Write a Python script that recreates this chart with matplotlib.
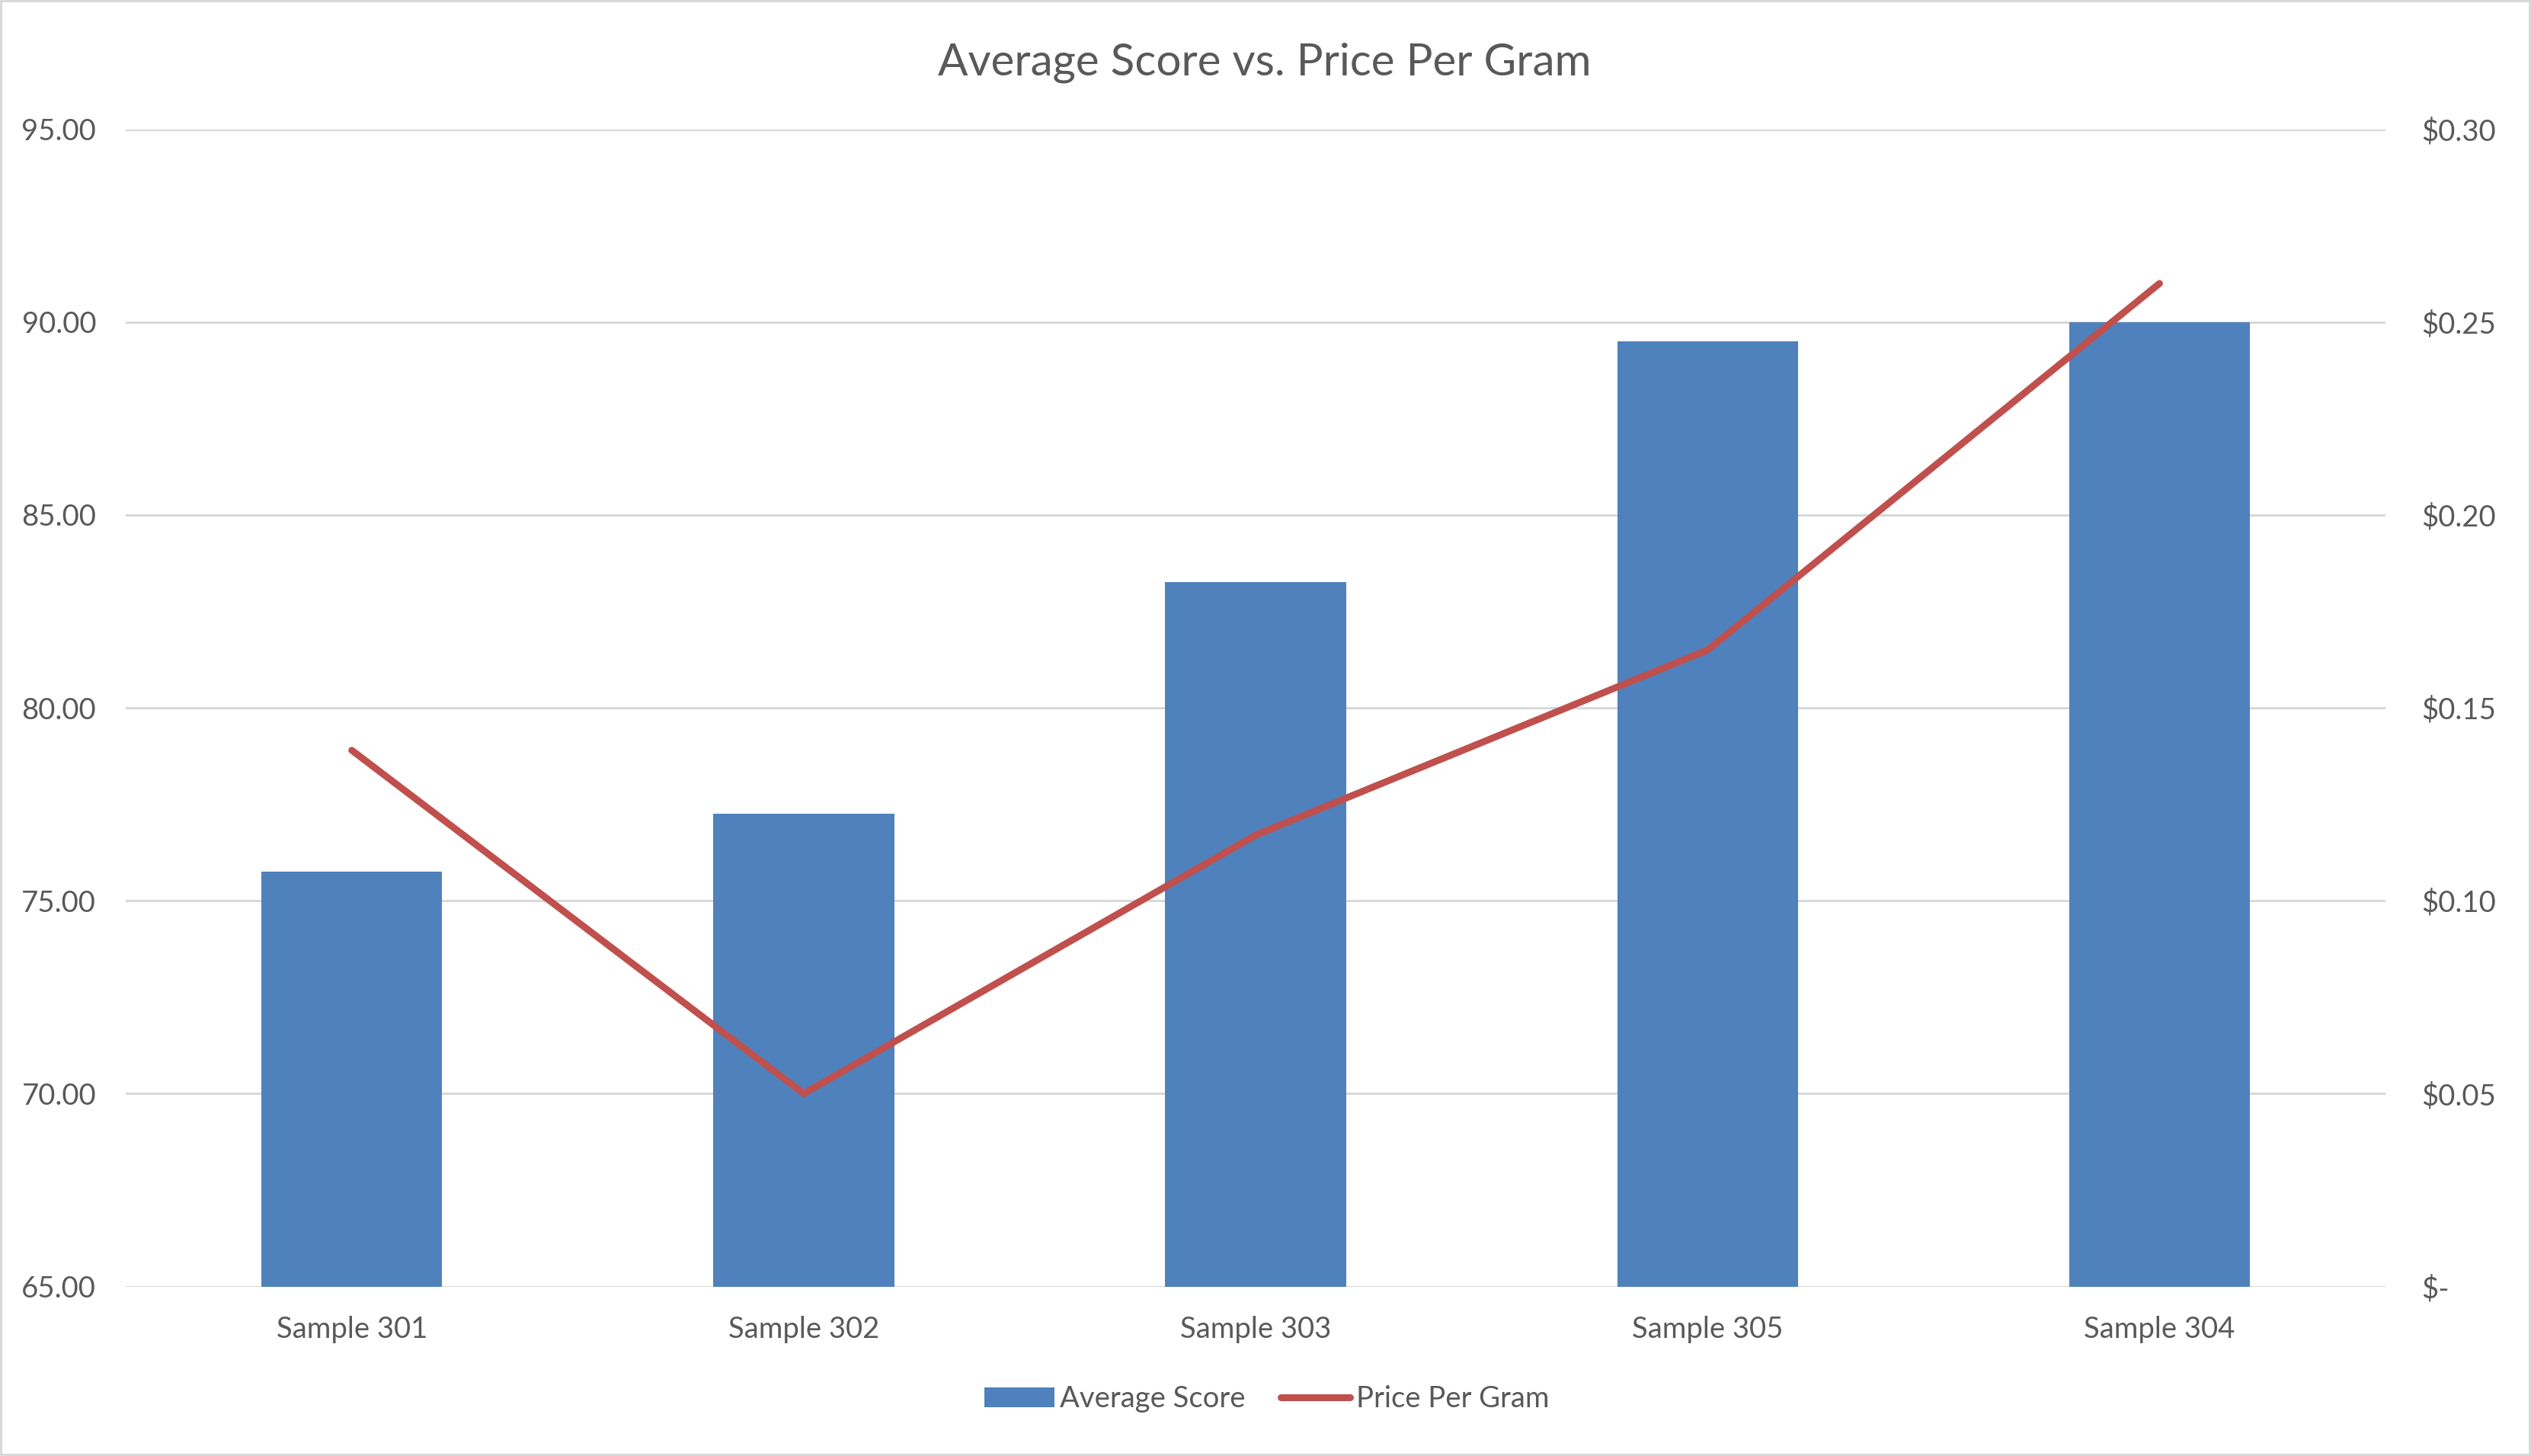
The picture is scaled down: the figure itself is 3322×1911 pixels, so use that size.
import numpy as np
import matplotlib.pyplot as plt
from matplotlib.ticker import FuncFormatter, MultipleLocator

# values
samples = ["Sample 301", "Sample 302", "Sample 303", "Sample 305", "Sample 304"]
avg_score = [75.75, 77.25, 83.25, 89.5, 90.0]
price_per_gram = [0.139, 0.05, 0.117, 0.165, 0.26]

text_col = "#595959"
grid_col = "#D9D9D9"
bar_col = "#4F81BD"
line_col = "#C0504D"

plt.rcParams['font.family'] = ['Lato', 'DejaVu Sans']

fig = plt.figure(figsize=(33.22, 19.11), dpi=100)
fig.patch.set_edgecolor(grid_col)
fig.patch.set_linewidth(4)

ax = fig.add_axes([0.0497, 0.1164, 0.8928, 0.7949])
x = np.arange(len(samples))
bars = ax.bar(x, avg_score, width=0.4, bottom=0, color=bar_col, zorder=2,
              label="Average Score")
ax.set_ylim(65, 95)
ax.set_xlim(-0.5, len(samples) - 0.5)
ax.yaxis.set_major_locator(MultipleLocator(5))
ax.yaxis.set_major_formatter(FuncFormatter(lambda v, p: "%.2f" % v))
ax.grid(axis="y", color=grid_col, linewidth=2.2, zorder=0)
ax.set_axisbelow(True)
for s in ax.spines.values():
    s.set_visible(False)
ax.set_xticks(x)
ax.set_xticklabels(samples)
ax.tick_params(axis="both", length=0, labelsize=27.5, colors=text_col)
ax.tick_params(axis="y", pad=28)
ax.tick_params(axis="x", pad=28)

ax2 = ax.twinx()
ln, = ax2.plot(x, price_per_gram, color=line_col, linewidth=6.5,
               solid_capstyle="round", zorder=3, label="Price Per Gram")
ax2.set_ylim(0, 0.30)
ax2.yaxis.set_major_locator(MultipleLocator(0.05))


def money(v, p):
    if abs(v) < 1e-9:
        return "$-"
    return "$%.2f" % v


ax2.yaxis.set_major_formatter(FuncFormatter(money))
for s in ax2.spines.values():
    s.set_visible(False)
ax2.tick_params(axis="y", length=0, labelsize=27.5, colors=text_col, pad=34)

fig.text(0.4995, 0.957, "Average Score vs. Price Per Gram", ha="center",
         va="center", fontsize=42, color=text_col)

leg = fig.legend([bars, ln], ["Average Score", "Price Per Gram"],
                 loc="center", bbox_to_anchor=(0.5005, 0.039), ncol=2,
                 frameon=False, fontsize=27.5, handlelength=2.4,
                 handletextpad=0.2, columnspacing=1.2)
for t in leg.get_texts():
    t.set_color(text_col)

fig.savefig("out.png", dpi=100, edgecolor=fig.get_edgecolor())
